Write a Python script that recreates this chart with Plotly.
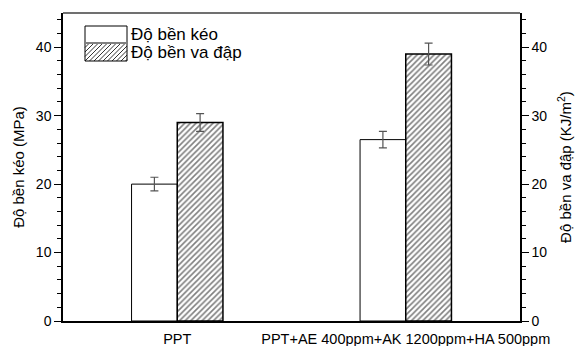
import plotly.graph_objects as go

# ---- data ----
categories = ["PPT", "PPT+AE 400ppm+AK 1200ppm+HA 500ppm"]
tensile = [20.0, 26.5]          # Độ bền kéo (MPa)
tensile_err = [1.0, 1.2]
impact = [29.0, 39.0]           # Độ bền va đập (KJ/m2)
impact_err = [1.3, 1.6]
y_ticks = [0, 10, 20, 30, 40]
series_names = ["Độ bền kéo", "Độ bền va đập"]

FONT = "Arial, Liberation Sans, sans-serif"
W, H = 578, 346
ML, MR, MT, MB = 63, 58, 13, 25
PW, PH = W - ML - MR, H - MT - MB

fig = go.Figure()
fig.add_trace(go.Bar(
    x=categories, y=tensile, name=series_names[0], width=0.2, offset=-0.2,
    marker=dict(color="white", line=dict(color="black", width=1)),
    error_y=dict(type="data", array=tensile_err, color="#555555", thickness=1.2, width=4),
    showlegend=False, xaxis="x", yaxis="y"))
fig.add_trace(go.Bar(
    x=categories, y=impact, name=series_names[1], width=0.2, offset=0,
    marker=dict(color="white", line=dict(color="black", width=1.5),
                pattern=dict(shape="/", fgcolor="black", bgcolor="white", size=4, solidity=0.4)),
    error_y=dict(type="data", array=impact_err, color="#555555", thickness=1.2, width=4),
    showlegend=False, xaxis="x", yaxis="y2"))

axis_common = dict(range=[0, 45], tickvals=y_ticks, ticks="outside", ticklen=7, tickwidth=1,
                   tickcolor="black", showline=True, linecolor="black", linewidth=1.5,
                   showgrid=False, zeroline=False, automargin=False,
                   tickfont=dict(family=FONT, size=14, color="black"),
                   minor=dict(dtick=2, ticks="outside", ticklen=4, tickcolor="black", tickwidth=1))

fig.update_layout(
    width=W, height=H, margin=dict(l=ML, r=MR, t=MT, b=MB),
    paper_bgcolor="white", plot_bgcolor="white",
    barmode="overlay",
    xaxis=dict(type="category", range=[-0.5, 1.5], showline=True, linecolor="black", linewidth=2,
               ticks="", showgrid=False, automargin=False, ticklabelstandoff=4,
               tickfont=dict(family=FONT, size=14.5, color="black")),
    yaxis=dict(**axis_common, title=dict(text="Độ bền kéo (MPa)", standoff=8,
                                         font=dict(family=FONT, size=15, color="black"))),
    yaxis2=dict(**axis_common, overlaying="y", side="right",
                title=dict(text="Độ bền va đập (KJ/m<sup>2</sup>)", standoff=14,
                           font=dict(family=FONT, size=15, color="black"))),
    showlegend=False,
)

def px2paper(x, y):
    return (x - ML) / PW, (H - MB - y) / PH

shapes = []
# top border (gray)
shapes.append(dict(type="line", xref="paper", yref="paper", x0=0, x1=1, y0=1, y1=1,
                   line=dict(color="#707070", width=2)))

# legend boxes (pixel coordinates converted to paper)
bx0, bx1 = 85, 127
b1y0, b1y1 = 26, 43
b2y0, b2y1 = 43, 61
x0, y0 = px2paper(bx0, b1y1); x1, y1 = px2paper(bx1, b1y0)
shapes.append(dict(type="rect", xref="paper", yref="paper", x0=x0, x1=x1, y0=y0, y1=y1,
                   line=dict(color="black", width=1), fillcolor="white"))
# hatch lines inside second box
spacing = 4.5
hh = b2y1 - b2y0
k = bx0 - hh
while k < bx1:
    xa, ya, xb, yb = k, b2y1, k + hh, b2y0
    if xa < bx0:
        ya = ya - (bx0 - xa); xa = bx0
    if xb > bx1:
        yb = yb + (xb - bx1); xb = bx1
    if xb > xa:
        pa = px2paper(xa, ya); pb = px2paper(xb, yb)
        shapes.append(dict(type="line", xref="paper", yref="paper", x0=pa[0], y0=pa[1],
                           x1=pb[0], y1=pb[1], line=dict(color="black", width=0.8)))
    k += spacing
x0, y0 = px2paper(bx0, b2y1); x1, y1 = px2paper(bx1, b2y0)
shapes.append(dict(type="rect", xref="paper", yref="paper", x0=x0, x1=x1, y0=y0, y1=y1,
                   line=dict(color="black", width=1), fillcolor="rgba(0,0,0,0)"))
pa = px2paper(bx0, b1y1); pb = px2paper(bx1, b1y1)
shapes.append(dict(type="line", xref="paper", yref="paper", x0=pa[0], y0=pa[1], x1=pb[0], y1=pb[1],
                   line=dict(color="#808080", width=2)))
fig.update_layout(shapes=shapes)

for name, yc in zip(series_names, [(b1y0 + b1y1) / 2, (b2y0 + b2y1) / 2]):
    px_, py_ = px2paper(130, yc)
    fig.add_annotation(xref="paper", yref="paper", x=px_, y=py_, text=name, showarrow=False,
                       xanchor="left", yanchor="middle", borderpad=0,
                       font=dict(family=FONT, size=17, color="black"))

fig.write_html("out.html")
